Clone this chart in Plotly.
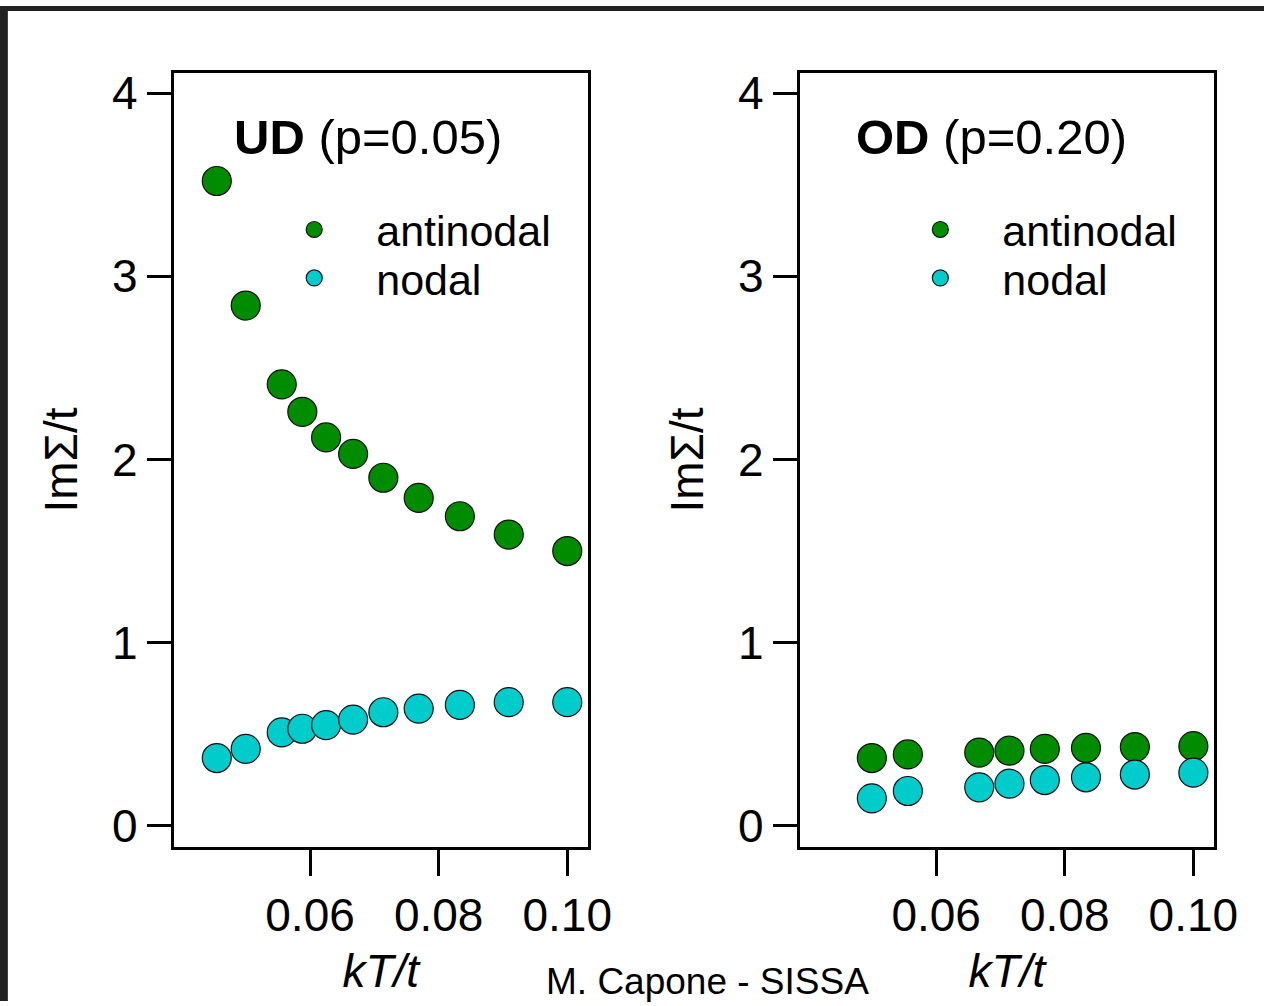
import plotly.graph_objects as go

W, H = 1288, 1006

# ---------------- data ----------------
kT_ud = [0.0455, 0.0500, 0.0556, 0.0588, 0.0625, 0.0667, 0.0714, 0.0769, 0.0833, 0.0909, 0.1000]
ud_antinodal = [3.52, 2.84, 2.41, 2.26, 2.12, 2.03, 1.90, 1.79, 1.69, 1.59, 1.50]
ud_nodal = [0.37, 0.42, 0.51, 0.53, 0.55, 0.58, 0.62, 0.64, 0.66, 0.675, 0.675]

kT_od = [0.0500, 0.0556, 0.0667, 0.0714, 0.0769, 0.0833, 0.0909, 0.1000]
od_antinodal = [0.37, 0.39, 0.40, 0.41, 0.42, 0.425, 0.43, 0.435]
od_nodal = [0.15, 0.19, 0.21, 0.23, 0.25, 0.265, 0.28, 0.29]

x_ticks = [0.06, 0.08, 0.10]
x_ticktext = ["0.06", "0.08", "0.10"]
y_ticks = [0, 1, 2, 3, 4]
y_ticktext = ["0", "1", "2", "3", "4"]

panel_titles = ["<b>UD</b> (p=0.05)", "<b>OD</b> (p=0.20)"]
series_names = ["antinodal", "nodal"]
x_title = "<i>kT/t</i>"
y_title = "ImΣ/t"
credit = "M. Capone - SISSA"

GREEN = "#008C00"
CYAN = "#00CCCC"
FONT = "Arial, Liberation Sans, sans-serif"

def px_x(p):
    return p / W

def px_y(p):
    return 1 - p / H

fig = go.Figure()

marker_common = dict(size=29, line=dict(color="#111111", width=1.2))

panels = [
    ("x", "y", kT_ud, ud_antinodal, ud_nodal, ("legend", "legend2")),
    ("x2", "y2", kT_od, od_antinodal, od_nodal, ("legend3", "legend4")),
]
for xa, ya, xs, ant, nod, legs in panels:
    fig.add_trace(go.Scatter(x=xs, y=ant, xaxis=xa, yaxis=ya, mode="markers",
                             name=series_names[0], legend=legs[0], showlegend=True,
                             marker=dict(color=GREEN, **marker_common)))
    fig.add_trace(go.Scatter(x=xs, y=nod, xaxis=xa, yaxis=ya, mode="markers",
                             name=series_names[1], legend=legs[1], showlegend=True,
                             marker=dict(color=CYAN, **marker_common)))

xdom = [[px_x(177), px_x(599)], [px_x(815), px_x(1237)]]
ydom = [px_y(850), px_y(68)]

axis_common = dict(
    showline=True, linecolor="black", linewidth=3, mirror=True,
    showgrid=False, zeroline=False, ticks="outside", tickwidth=3,
    tickcolor="black", tickfont=dict(family=FONT, size=46, color="black"),
)

layout = dict(
    width=W, height=H,
    margin=dict(l=0, r=0, t=0, b=0),
    paper_bgcolor="white", plot_bgcolor="white",
    font=dict(family=FONT, color="black"),
    showlegend=True,
)
for i, suf in enumerate(["", "2"]):
    layout["xaxis" + suf] = dict(
        domain=xdom[i], range=[0.0388, 0.1032], tickvals=x_ticks, ticktext=x_ticktext,
        ticklen=26, anchor="y" + suf,
        title=dict(text=x_title, font=dict(family=FONT, size=46), standoff=15),
        **axis_common)
    layout["yaxis" + suf] = dict(
        domain=ydom, range=[-0.114, 4.108], tickvals=y_ticks, ticktext=y_ticktext,
        ticklen=24, anchor="x" + suf,
        title=dict(text=y_title, font=dict(family=FONT, size=46), standoff=20),
        **axis_common)

leg_common = dict(font=dict(family=FONT, size=43, color="black"), bgcolor="rgba(0,0,0,0)",
                  xanchor="left", yanchor="middle", itemwidth=114, borderwidth=0,
                  visible=True)
layout["legend"] = dict(x=px_x(257), y=px_y(226), **leg_common)
layout["legend2"] = dict(x=px_x(257), y=px_y(275), **leg_common)
layout["legend3"] = dict(x=px_x(895), y=px_y(226), **leg_common)
layout["legend4"] = dict(x=px_x(895), y=px_y(275), **leg_common)

layout["annotations"] = [
    dict(text=panel_titles[0], x=px_x(236), y=px_y(132), xref="paper", yref="paper",
         xanchor="left", yanchor="middle", showarrow=False,
         font=dict(family=FONT, size=49, color="black")),
    dict(text=panel_titles[1], x=px_x(870), y=px_y(132), xref="paper", yref="paper",
         xanchor="left", yanchor="middle", showarrow=False,
         font=dict(family=FONT, size=49, color="black")),
    dict(text=credit, x=px_x(721), y=px_y(986), xref="paper", yref="paper",
         xanchor="center", yanchor="middle", showarrow=False,
         font=dict(family=FONT, size=37, color="black")),
]

layout["shapes"] = [
    dict(type="rect", xref="paper", yref="paper", x0=0, x1=px_x(8), y0=0, y1=1,
         fillcolor="#222222", line=dict(width=0), layer="above"),
    dict(type="rect", xref="paper", yref="paper", x0=0, x1=1, y0=px_y(5), y1=1,
         fillcolor="#222222", line=dict(width=0), layer="above"),
]

fig.update_layout(**layout)
fig.write_html("out.html")
